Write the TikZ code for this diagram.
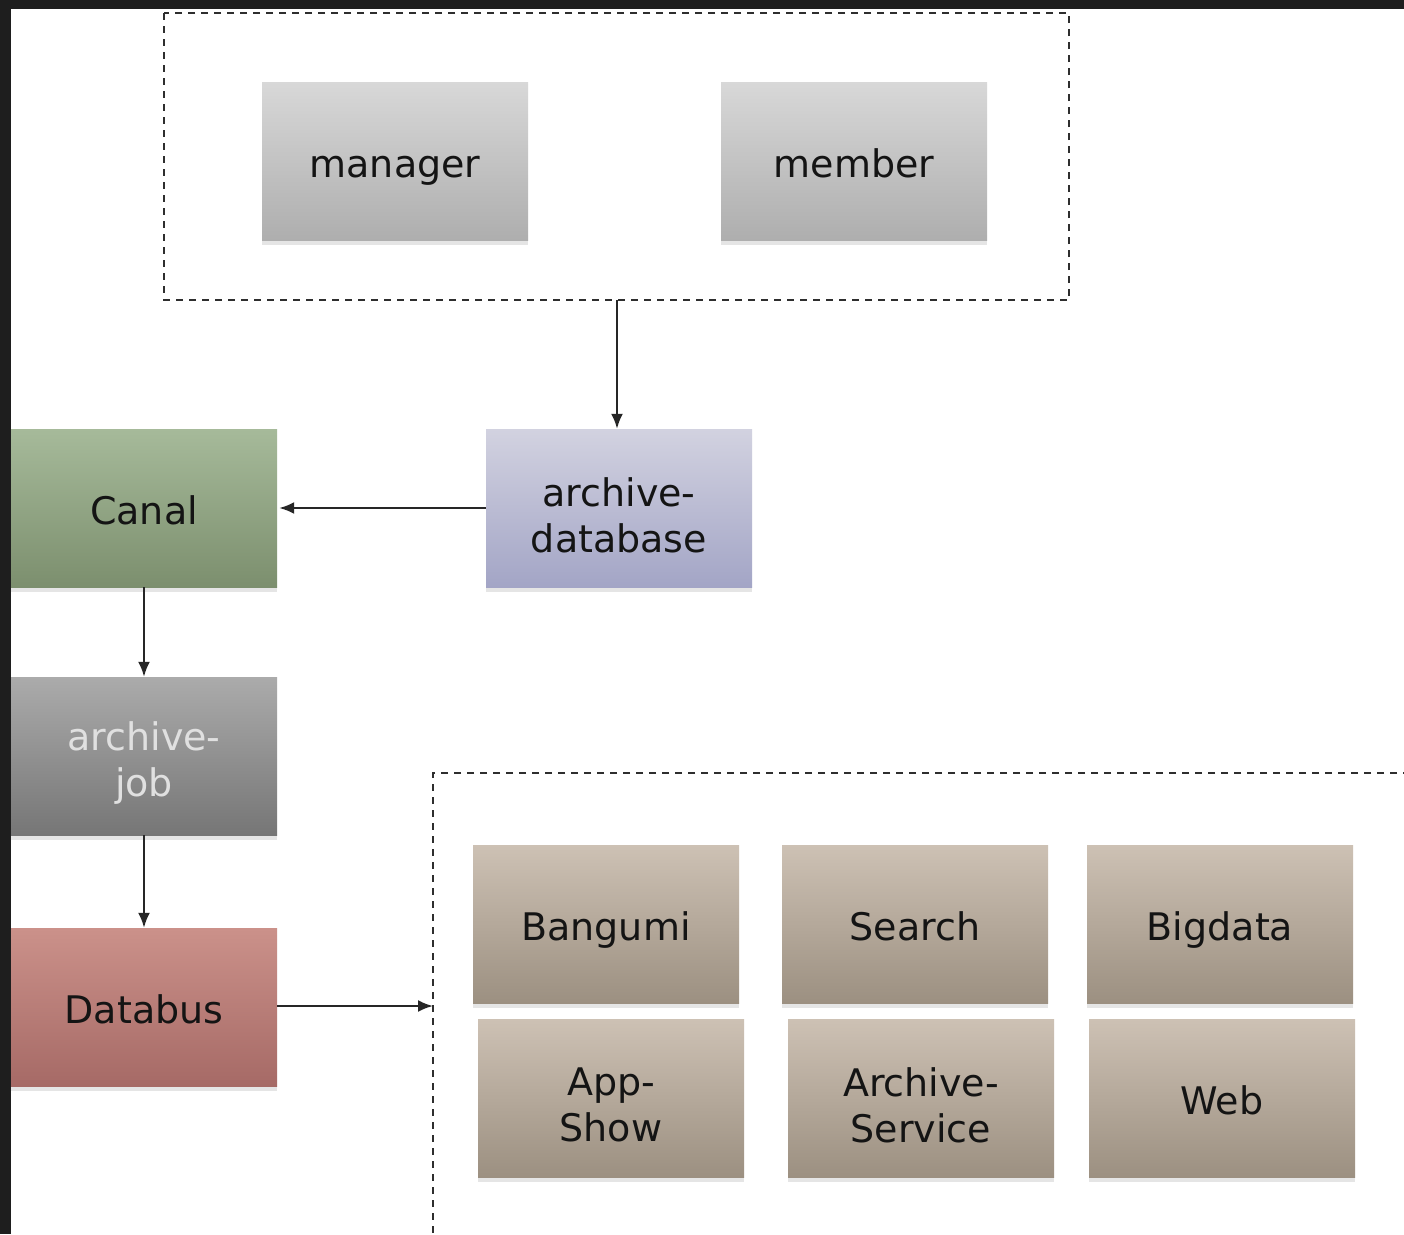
\documentclass[tikz,border=0pt]{standalone}
\usepackage{fontspec}
\setmainfont{DejaVu Sans}
\usetikzlibrary{arrows.meta,shadows}
\definecolor{bgdark}{HTML}{1E1E1E}
\definecolor{dashc}{HTML}{2E2E2E}
\definecolor{txt}{HTML}{141414}
\definecolor{gTop}{HTML}{D8D8D8}\definecolor{gBot}{HTML}{AEAEAE}
\definecolor{lTop}{HTML}{D2D2E0}\definecolor{lBot}{HTML}{A3A5C6}
\definecolor{cTop}{HTML}{A6BA9A}\definecolor{cBot}{HTML}{7C8F6E}
\definecolor{jTop}{HTML}{ABABAB}\definecolor{jBot}{HTML}{767676}
\definecolor{dTop}{HTML}{CB918A}\definecolor{dBot}{HTML}{A66A66}
\definecolor{bTop}{HTML}{CDC1B4}\definecolor{bBot}{HTML}{9C9081}
\tikzset{
  box/.style={minimum width=266pt, minimum height=158pt, inner sep=0pt,
    align=center, text=txt, font=\fontsize{38pt}{46pt}\selectfont,
    general shadow={fill=black!10, shadow yshift=-5pt}},
  one/.style={text height=32pt, text depth=0pt},
  two/.style={label={[align=center, text=txt, font=\fontsize{38pt}{46pt}\selectfont, yshift=-7pt]center:#1}},
  twolight/.style={label={[align=center, text=black!12, font=\fontsize{38pt}{46pt}\selectfont, yshift=-7pt]center:#1}},
  greybox/.style={box, top color=gTop, bottom color=gBot},
  lavbox/.style={box, top color=lTop, bottom color=lBot},
  canalbox/.style={box, top color=cTop, bottom color=cBot},
  jobbox/.style={box, top color=jTop, bottom color=jBot},
  busbox/.style={box, top color=dTop, bottom color=dBot},
  brownbox/.style={box, top color=bTop, bottom color=bBot},
  grp/.style={draw=dashc, line width=2.4pt, dash pattern=on 7pt off 6pt},
  conn/.style={draw=black!85, line width=2.2pt, -{Latex[length=15pt,width=12pt]}}
}
\begin{document}
\begin{tikzpicture}[x=1pt,y=-1pt]
\useasboundingbox (0,0) rectangle (1404,1234);
\fill[bgdark] (0,0) rectangle (1404,1234);
\fill[white] (11,9) rectangle (1404,1234);
% groups
\draw[grp] (164,13) rectangle (1069,300);
\coordinate (gtopb) at (617,300);
\draw[grp] (1410,773) -- (433,773) -- (433,1240);
\coordinate (gbotl) at (433,1006);
% top boxes
\node[greybox,one] (manager) at (395,161) {manager};
\node[greybox,one] (member) at (854,161) {member};
% middle
\node[lavbox,two={archive-\\database}] (adb) at (619,508) {};
\node[canalbox,one] (canal) at (144,508) {Canal};
\node[jobbox,twolight={archive-\\job}] (job) at (144,756) {};
\node[busbox,one] (bus) at (144,1007) {Databus};
% consumers
\node[brownbox,one] (bangumi) at (606,924) {Bangumi};
\node[brownbox,one] (search) at (915,924) {Search};
\node[brownbox,one] (bigdata) at (1220,924) {Bigdata};
\node[brownbox,two={App-\\Show}] (appshow) at (611,1098) {};
\node[brownbox,two={Archive-\\Service}] (asvc) at (921,1098) {};
\node[brownbox,one] (web) at (1222,1098) {Web};
% connectors
\draw[conn] (gtopb) -- (adb.north -| gtopb);
\draw[conn] (adb.west) -- ([xshift=2pt]canal.east);
\draw[conn] (canal.south) -- (job.north);
\draw[conn] (job.south) -- (bus.north);
\draw[conn] (bus.east |- gbotl) -- (gbotl);
\end{tikzpicture}
\end{document}
